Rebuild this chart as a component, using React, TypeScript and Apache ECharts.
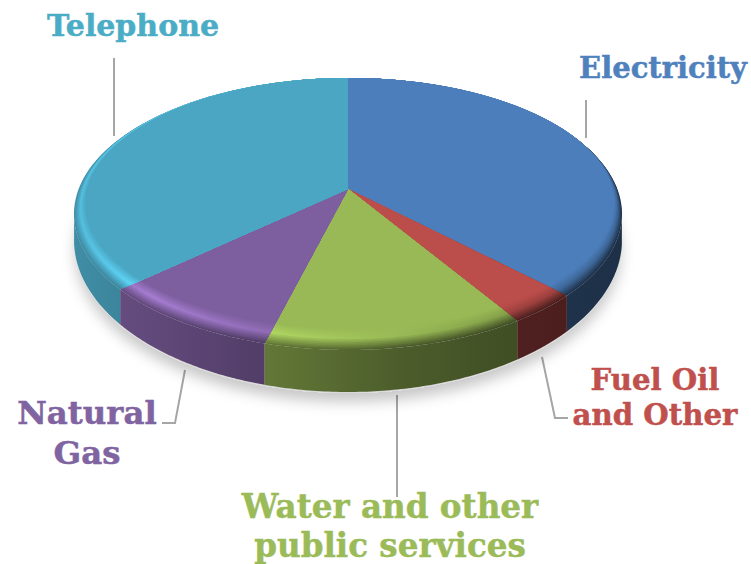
import React, { useEffect, useRef } from "react";
import * as echarts from "echarts";

const categories = ["Electricity", "Fuel Oil and Other", "Water and other public services", "Natural Gas", "Telephone"];
const shares = [37.5, 3.6, 13.0, 9.2, 36.7];

const topColors = ["#4C7EBB", "#BB4D4A", "#98B955", "#7D5E9E", "#4AA6C2"];
const labelColors = ["#4F81BD", "#C0504D", "#9BBB59", "#8064A2", "#4BACC6"];
const labelLines = [["Electricity"], ["Fuel Oil", "and Other"], ["Water and other", "public services"], ["Natural", "Gas"], ["Telephone"]];

const labelLayout = [
  { x: 663, y: 68, lh: 36, size: 29 },
  { x: 655, y: 397, lh: 35, size: 29.2 },
  { x: 390, y: 526, lh: 39, size: 32.6 },
  { x: 87, y: 433, lh: 40, size: 32.4 },
  { x: 133, y: 25, lh: 36, size: 30 },
];
const leaders = [
  [[586, 100], [586, 138]],
  [[542, 357], [555, 418], [568, 418]],
  [[397, 395], [397, 497]],
  [[185, 370], [175, 423], [162, 423]],
  [[114, 58], [114, 136]],
];

// Disc geometry
const CX = 348, APEX_Y = 189, TOP_CY = 214, RX = 274, RY = 136;
const BOT_CY = 240, BOT_RY = 152;
const P = 0.1838, K = 131.4, R = 269.3;
const BANDS = 14;

function rim(theta: number): [number, number] {
  const u = Math.sin(theta), v = -Math.cos(theta);
  const s = 1 / (1 - P * v);
  return [CX + R * u * s, APEX_Y + K * v * s];
}
function bandPoint(theta: number, q: number): [number, number] {
  const [px, py] = rim(theta);
  const dx = px - CX, dy = py - APEX_Y;
  const rx = RX - 10 * q, ry = RY - 11 * q, cy = TOP_CY - 11 * q;
  const ox = -2 * q;
  const oy = APEX_Y - cy;
  const a = (dx * dx) / (rx * rx) + (dy * dy) / (ry * ry);
  const b = (2 * ox * dx) / (rx * rx) + (2 * oy * dy) / (ry * ry);
  const c = (ox * ox) / (rx * rx) + (oy * oy) / (ry * ry) - 1;
  const t = (-b + Math.sqrt(b * b - 4 * a * c)) / (2 * a);
  return [CX + dx * t, APEX_Y + dy * t];
}
function bottomY(x: number) {
  const n = Math.min(1, Math.abs(x - CX) / RX);
  return BOT_CY + BOT_RY * Math.sqrt(1 - n * n);
}
function rgb(hex: string) {
  return [1, 3, 5].map((i) => parseInt(hex.slice(i, i + 2), 16));
}
function css(c: number[]) {
  return `rgb(${c.map((v) => Math.max(0, Math.min(255, Math.round(v)))).join(",")})`;
}
const mix = (a: number[], b: number[], t: number) => a.map((v, i) => v + (b[i] - v) * t);

const stopX = [73, 150, 265, 400, 517, 622];
const sideFactor = [0.85, 0.78, 0.65, 0.5, 0.42, 0.38];
const ridgeGain = [1.12, 1.33, 1.16, 1.0, 0.85, 0.8];

function sideCol(flat: number[], i: number) {
  return flat.map((v) => v * sideFactor[i]);
}
function ridgeCol(flat: number[], i: number) {
  return flat.map((v) => v * ridgeGain[i]);
}
function gradient(colorAt: (i: number) => number[]) {
  return {
    type: "linear",
    x: stopX[0],
    y: 0,
    x2: stopX[stopX.length - 1],
    y2: 0,
    global: true,
    colorStops: stopX.map((x, i) => ({
      offset: (x - stopX[0]) / (stopX[stopX.length - 1] - stopX[0]),
      color: css(colorAt(i)),
    })),
  };
}

const total = shares.reduce((a, b) => a + b, 0);

function renderSlice(params: any, api: any) {
  const idx = params.dataIndex;
  const before = shares.slice(0, idx).reduce((a, b) => a + b, 0);
  const start = (before / total) * Math.PI * 2;
  const end = start + (api.value(0) / total) * Math.PI * 2;
  const flat = rgb(topColors[idx]);
  const steps = 70;
  const thetas: number[] = [];
  for (let i = 0; i <= steps; i++) thetas.push(start + ((end - start) * i) / steps);
  const children: any[] = [];

  if (idx === 0) {
    children.push({
      type: "ellipse",
      shape: { cx: CX, cy: BOT_CY + 2, rx: RX - 1, ry: BOT_RY - 1 },
      style: { fill: "#d8d8d8", shadowBlur: 14, shadowColor: "rgba(0,0,0,0.22)", shadowOffsetY: 9 },
    });
  }

  // Wall
  const front = thetas.map(rim).filter((p) => p[1] >= TOP_CY);
  if (front.length > 1) {
    const pts = front.concat(front.slice().reverse().map((p) => [p[0], bottomY(p[0])] as [number, number]));
    children.push({
      type: "polygon",
      shape: { points: pts },
      style: { fill: gradient((i) => sideCol(flat, i)) },
    });
  }

  // Rim bevel, outer to inner
  for (let b = 0; b <= BANDS; b++) {
    const q = b / BANDS;
    const pts: number[][] = [[CX, APEX_Y]];
    thetas.forEach((t) => pts.push(bandPoint(t, q)));
    const colorAt = (i: number) => {
      const side = sideCol(flat, i), ridge = ridgeCol(flat, i);
      if (q < 0.5) return mix(side, ridge, q / 0.5);
      return mix(ridge, flat, Math.min(1, (q - 0.5) / 0.45));
    };
    children.push({
      type: "polygon",
      shape: { points: pts },
      style: { fill: b === BANDS ? css(flat) : gradient(colorAt) },
    });
  }
  return { type: "group", children };
}

export default function App() {
  const ref = useRef<HTMLDivElement>(null);
  useEffect(() => {
    document.body.style.margin = "0";
    const chart = echarts.init(ref.current!, undefined, { renderer: "svg" });
    const graphics: any[] = [];
    leaders.forEach((pts) => {
      graphics.push({
        type: "polyline",
        shape: { points: pts },
        style: { stroke: "#A6A6A6", lineWidth: 2, fill: "none" },
        silent: true,
      });
    });
    labelLines.forEach((lines, i) => {
      graphics.push({
        type: "text",
        x: labelLayout[i].x,
        y: labelLayout[i].y,
        style: {
          text: lines.join("\n"),
          fill: labelColors[i],
          font: `bold ${labelLayout[i].size}px "DejaVu Serif"`,
          lineHeight: labelLayout[i].lh,
          align: "center",
          verticalAlign: "middle",
          stroke: labelColors[i],
          lineWidth: 0.5,
        },
        silent: true,
      });
    });
    chart.setOption({
      animation: false,
      backgroundColor: "#ffffff",
      series: [
        {
          type: "custom",
          coordinateSystem: "none",
          silent: true,
          data: shares.map((v, i) => ({ name: categories[i], value: [v, i] })),
          renderItem: renderSlice,
        },
      ],
      graphic: { elements: graphics },
    });
    return () => chart.dispose();
  }, []);
  return <div ref={ref} style={{ position: "absolute", left: 0, top: 0, width: 751, height: 564 }} />;
}
